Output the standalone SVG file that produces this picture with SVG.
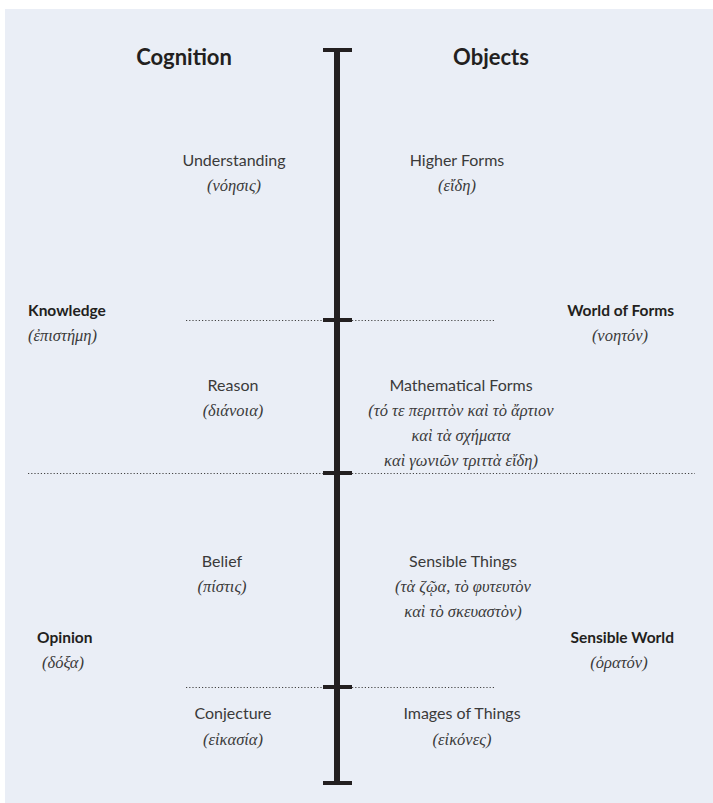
<svg xmlns="http://www.w3.org/2000/svg" width="713" height="803" viewBox="0 0 713 803">
  <style>
    .bg { fill: #eaeef6; }
    .head { font-family: Lato, "Open Sans", sans-serif; font-weight: bold; font-size: 22px; fill: #231f20; text-anchor: middle; }
    .side { font-family: Lato, "Open Sans", sans-serif; font-weight: bold; font-size: 15.5px; fill: #231f20; }
    .lbl { font-family: Lato, "Open Sans", sans-serif; font-size: 16px; fill: #3a3a3a; text-anchor: middle; }
    .gr { font-family: "Liberation Serif", "DejaVu Serif", serif; font-style: italic; font-size: 16.5px; fill: #3a3a3a; text-anchor: middle; }
    .grl { font-family: "Liberation Serif", "DejaVu Serif", serif; font-style: italic; font-size: 16.5px; fill: #3a3a3a; }
    .axis { stroke: #231f20; stroke-width: 6; fill: none; }
    .cap { stroke: #231f20; stroke-width: 4; fill: none; }
    .dots { stroke: #444; stroke-width: 1; stroke-dasharray: 1.2 2; fill: none; }
  </style>

  <rect class="bg" x="5" y="9" width="708" height="794"/>

  <!-- column headings -->
  <g id="headings">
    <text class="head" x="184" y="65">Cognition</text>
    <text class="head" x="491" y="65">Objects</text>
  </g>

  <!-- divided line with end caps and section ticks -->
  <g id="connectors">
    <line class="axis" x1="337" y1="50" x2="337" y2="783"/>
    <line class="cap" x1="323" y1="50" x2="352" y2="50"/>
    <line class="cap" x1="323" y1="783" x2="352" y2="783"/>
    <line class="cap" x1="323" y1="320" x2="352" y2="320"/>
    <line class="cap" x1="323" y1="473" x2="352" y2="473"/>
    <line class="cap" x1="323" y1="687" x2="352" y2="687"/>
    <line class="dots" x1="186" y1="320.5" x2="323" y2="320.5"/>
    <line class="dots" x1="352" y1="320.5" x2="494" y2="320.5"/>
    <line class="dots" x1="28" y1="473.5" x2="323" y2="473.5"/>
    <line class="dots" x1="352" y1="473.5" x2="695" y2="473.5"/>
    <line class="dots" x1="186" y1="687.5" x2="323" y2="687.5"/>
    <line class="dots" x1="352" y1="687.5" x2="494" y2="687.5"/>
  </g>

  <g id="understanding">
    <text class="lbl" x="234" y="166">Understanding</text>
    <text class="gr" x="234" y="191">(νόησις)</text>
  </g>
  <g id="higher-forms">
    <text class="lbl" x="457" y="166">Higher Forms</text>
    <text class="gr" x="457" y="191">(εἴδη)</text>
  </g>

  <g id="knowledge">
    <text class="side" x="28" y="316">Knowledge</text>
    <text class="grl" x="28" y="341">(ἐπιστήμη)</text>
  </g>
  <g id="world-of-forms">
    <text class="side" x="674" y="316" text-anchor="end">World of Forms</text>
    <text class="gr" x="620" y="341">(νοητόν)</text>
  </g>

  <g id="reason">
    <text class="lbl" x="233" y="391">Reason</text>
    <text class="gr" x="233" y="416">(διάνοια)</text>
  </g>
  <g id="mathematical-forms">
    <text class="lbl" x="461" y="391">Mathematical Forms</text>
    <text class="gr" x="461" y="416">(τό τε περιττὸν καὶ τὸ ἄρτιον</text>
    <text class="gr" x="461" y="441">καὶ τὰ σχήματα</text>
    <text class="gr" x="461" y="466">καὶ γωνιῶν τριττὰ εἴδη)</text>
  </g>

  <g id="belief">
    <text class="lbl" x="222" y="567">Belief</text>
    <text class="gr" x="222" y="592">(πίστις)</text>
  </g>
  <g id="sensible-things">
    <text class="lbl" x="463" y="567">Sensible Things</text>
    <text class="gr" x="463" y="592">(τὰ ζῷα, τὸ φυτευτὸν</text>
    <text class="gr" x="463" y="617">καὶ τὸ σκευαστὸν)</text>
  </g>

  <g id="opinion">
    <text class="side" x="37" y="643">Opinion</text>
    <text class="gr" x="63" y="668">(δόξα)</text>
  </g>
  <g id="sensible-world">
    <text class="side" x="674" y="643" text-anchor="end">Sensible World</text>
    <text class="gr" x="619" y="668">(ὁρατόν)</text>
  </g>

  <g id="conjecture">
    <text class="lbl" x="233" y="719">Conjecture</text>
    <text class="gr" x="233" y="745">(εἰκασία)</text>
  </g>
  <g id="images-of-things">
    <text class="lbl" x="462" y="719">Images of Things</text>
    <text class="gr" x="462" y="745">(εἰκόνες)</text>
  </g>
</svg>
